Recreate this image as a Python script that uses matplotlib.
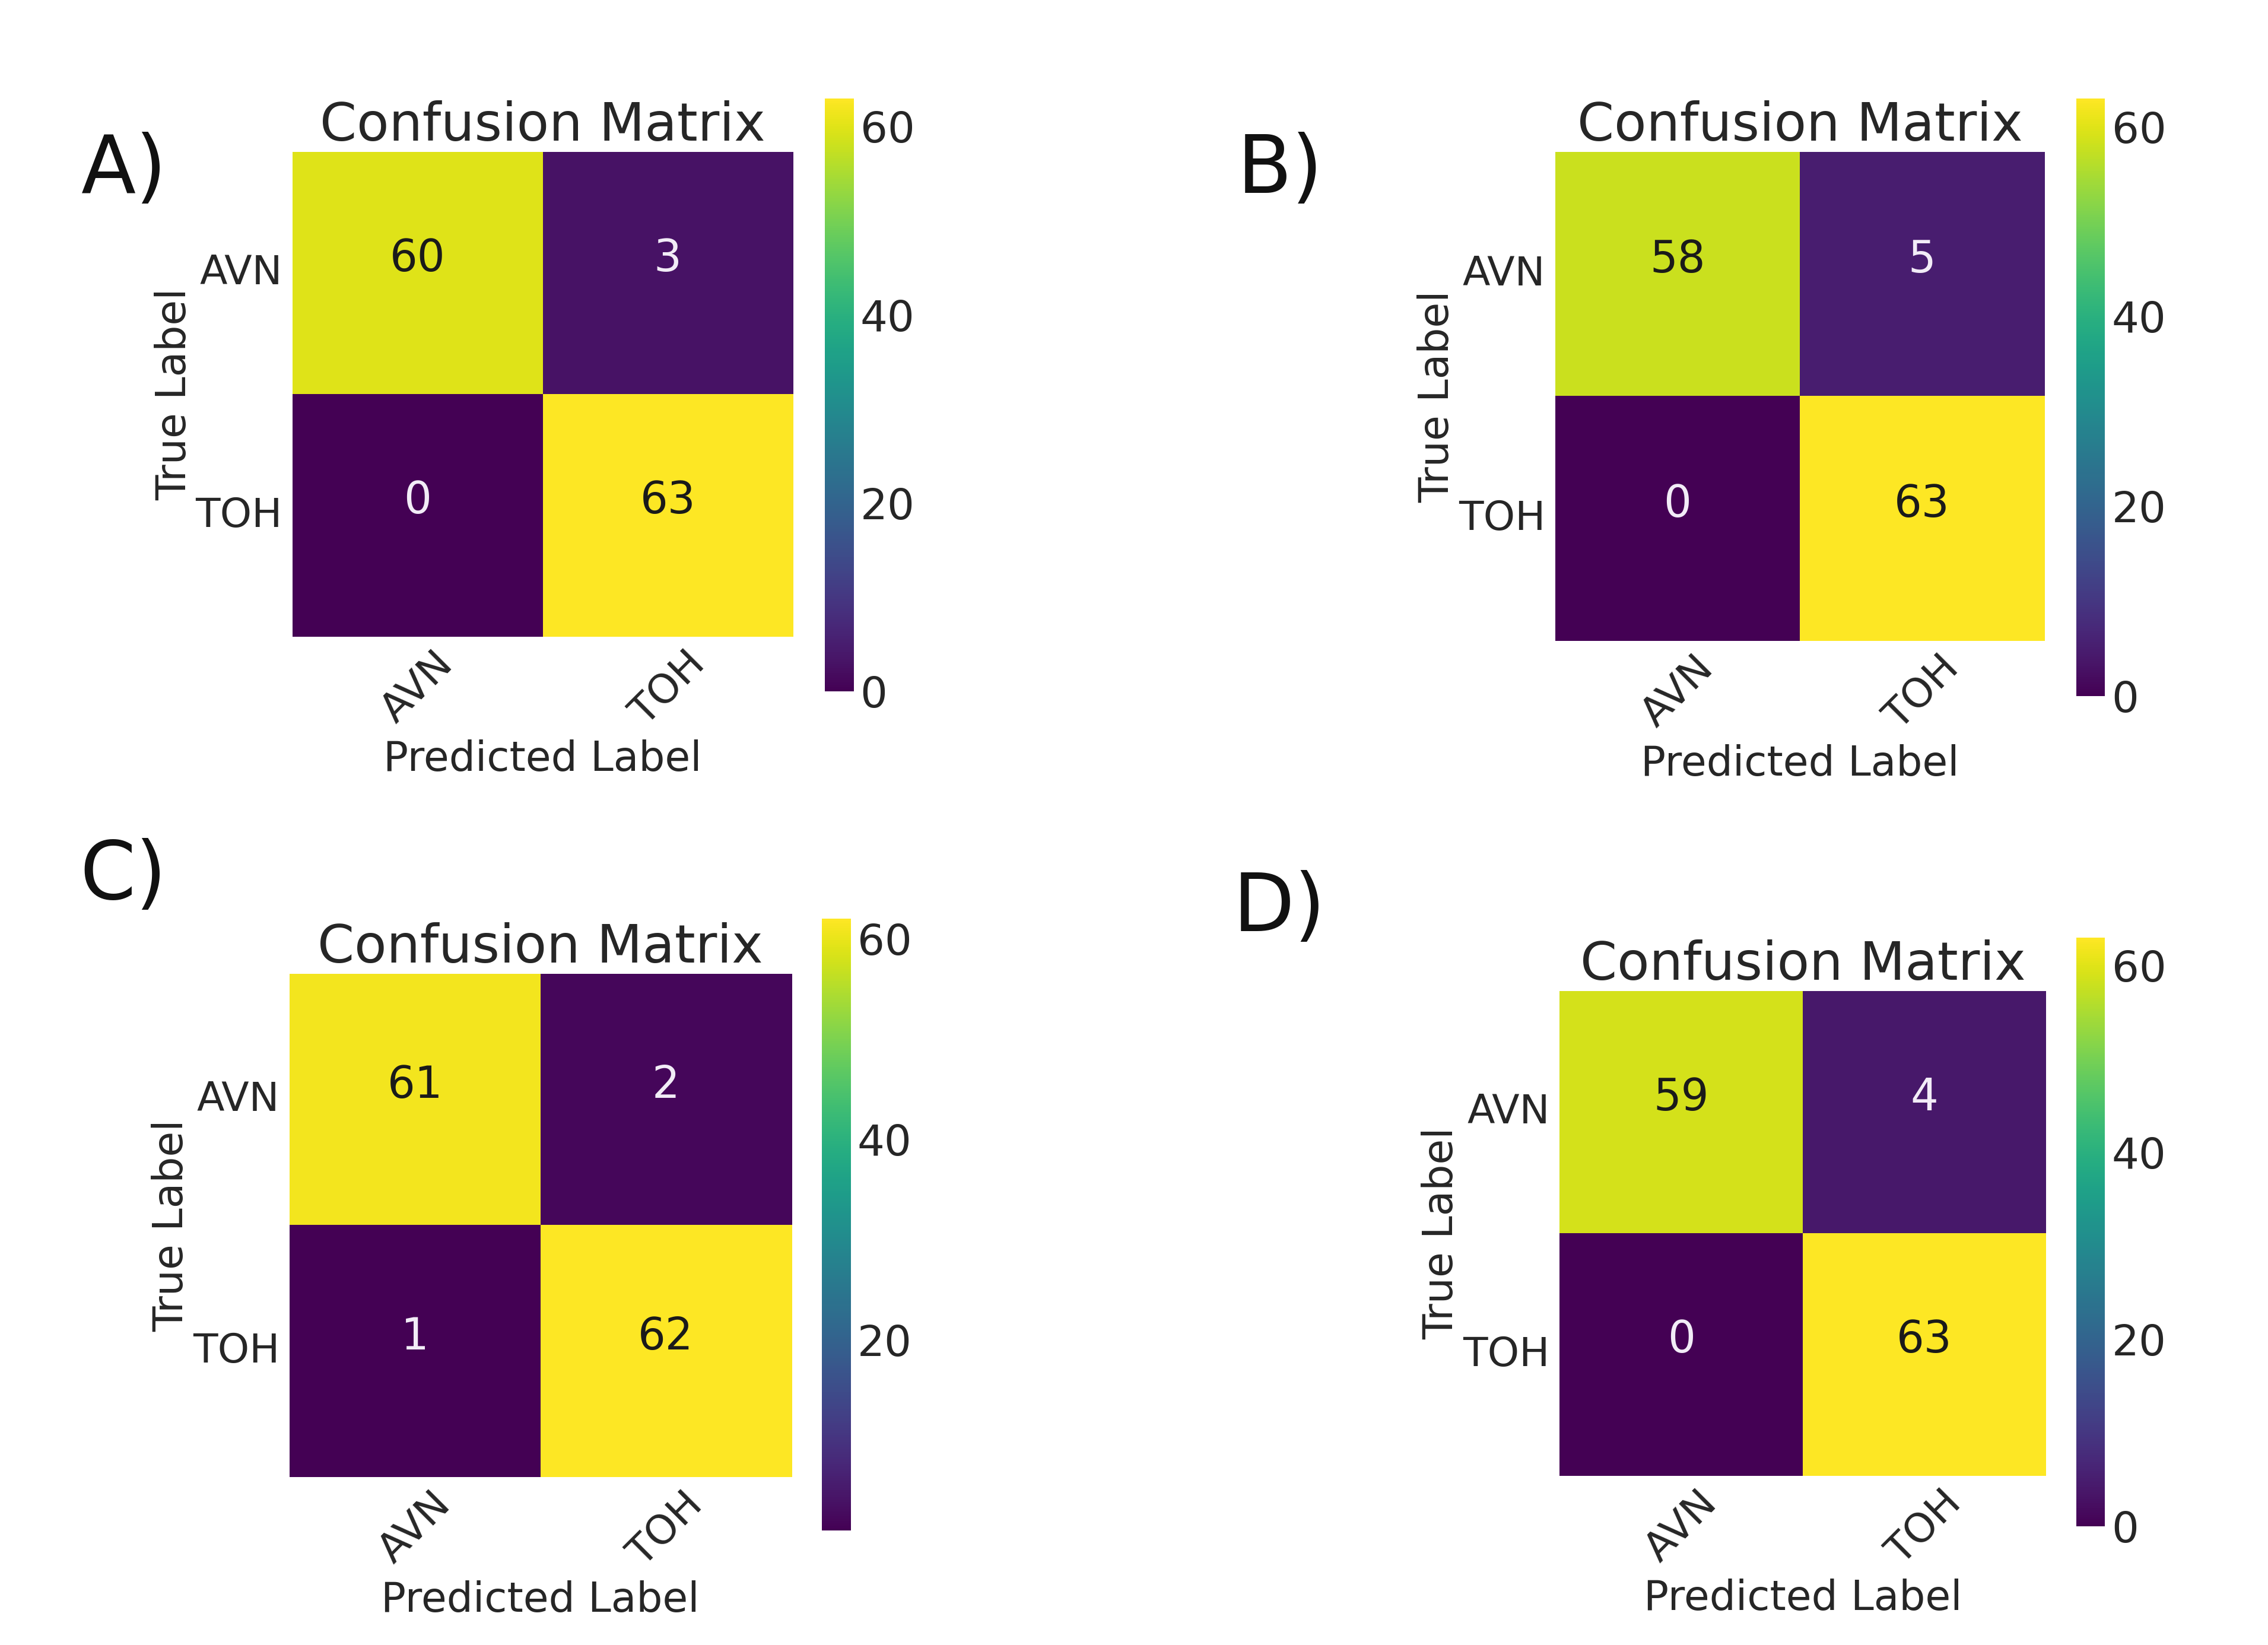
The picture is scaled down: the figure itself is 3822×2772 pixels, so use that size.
import numpy as np
import matplotlib
matplotlib.use("Agg")
import matplotlib.pyplot as plt

classes = ["AVN", "TOH"]
panel_letters = ["A)", "B)", "C)", "D)"]
cm_A = [[60, 3], [0, 63]]
cm_B = [[58, 5], [0, 63]]
cm_C = [[61, 2], [1, 62]]
cm_D = [[59, 4], [0, 63]]
matrices = [cm_A, cm_B, cm_C, cm_D]
cbar_ticks = [0, 20, 40, 60]

W, H = 3823, 2772
fig = plt.figure(figsize=(W / 100, H / 100), dpi=100)
fig.patch.set_facecolor("white")

def fx(x):
    return x / 1568

def fy(y):
    return 1 - y / 1137

# layout in display (1568x1137) coords: heatmap box, colorbar box, letter pos
layout = [
    dict(hm=(202, 105, 548, 440), cb=(570, 68, 590, 478), letter=(56, 118)),
    dict(hm=(1075, 105, 1413, 443), cb=(1435, 68, 1455, 481), letter=(855, 118)),
    dict(hm=(200, 673, 547, 1021), cb=(568, 635, 588, 1058), letter=(55, 606)),
    dict(hm=(1078, 685, 1414, 1020), cb=(1435, 648, 1455, 1055), letter=(852, 628)),
]

txt_color = "#262626"
FS_TICK = 49
FS_ANN = 53
FS_LAB = 50
FS_CB = 52
FS_TITLE = 64
FS_LETTER = 97

for cm, lay, letter in zip(matrices, layout, panel_letters):
    data = np.array(cm)
    x0, y0, x1, y1 = lay["hm"]
    ax = fig.add_axes([fx(x0), fy(y1), fx(x1) - fx(x0), fy(y0) - fy(y1)])
    vmin, vmax = data.min(), data.max()
    cmap = plt.get_cmap("viridis")
    im = ax.imshow(data, cmap=cmap, vmin=vmin, vmax=vmax, aspect="auto",
                   interpolation="nearest")
    for i in range(2):
        for j in range(2):
            v = data[i, j]
            norm = (v - vmin) / (vmax - vmin)
            c = "#f2ecf7" if norm < 0.5 else "#1a1a1a"
            ax.annotate(str(v), xy=(j, i), xytext=(0, 17),
                        textcoords="offset points", ha="center", va="center",
                        color=c, fontsize=FS_ANN)
    for s in ax.spines.values():
        s.set_visible(False)
    ax.set_xticks(range(2))
    ax.set_yticks(range(2))
    ax.set_xticklabels(classes, rotation=45, ha="center", fontsize=FS_TICK,
                       color=txt_color)
    ax.set_yticklabels(classes, fontsize=FS_TICK, color=txt_color, rotation=0,
                       va="center")
    ax.tick_params(axis="x", length=0, pad=9)
    ax.tick_params(axis="y", length=0, pad=12)
    ax.set_xlabel("Predicted Label", fontsize=FS_LAB, color=txt_color,
                  labelpad=8)
    ax.set_ylabel("True Label", fontsize=FS_LAB, color=txt_color, labelpad=2)
    ax.set_title("Confusion Matrix", fontsize=FS_TITLE, color=txt_color, pad=7)

    cx0, cy0, cx1, cy1 = lay["cb"]
    cax = fig.add_axes([fx(cx0), fy(cy1), fx(cx1) - fx(cx0), fy(cy0) - fy(cy1)])
    cb = fig.colorbar(im, cax=cax)
    cb.outline.set_visible(False)
    cb.set_ticks([t for t in cbar_ticks if vmin <= t <= vmax])
    cax.tick_params(length=0, pad=8, labelsize=FS_CB, labelcolor=txt_color)

    lx, ly = lay["letter"]
    fig.text(fx(lx), fy(ly), letter, fontsize=FS_LETTER, color="#111111",
             ha="left", va="center")

fig.savefig("out.png", dpi=100, facecolor="white")
